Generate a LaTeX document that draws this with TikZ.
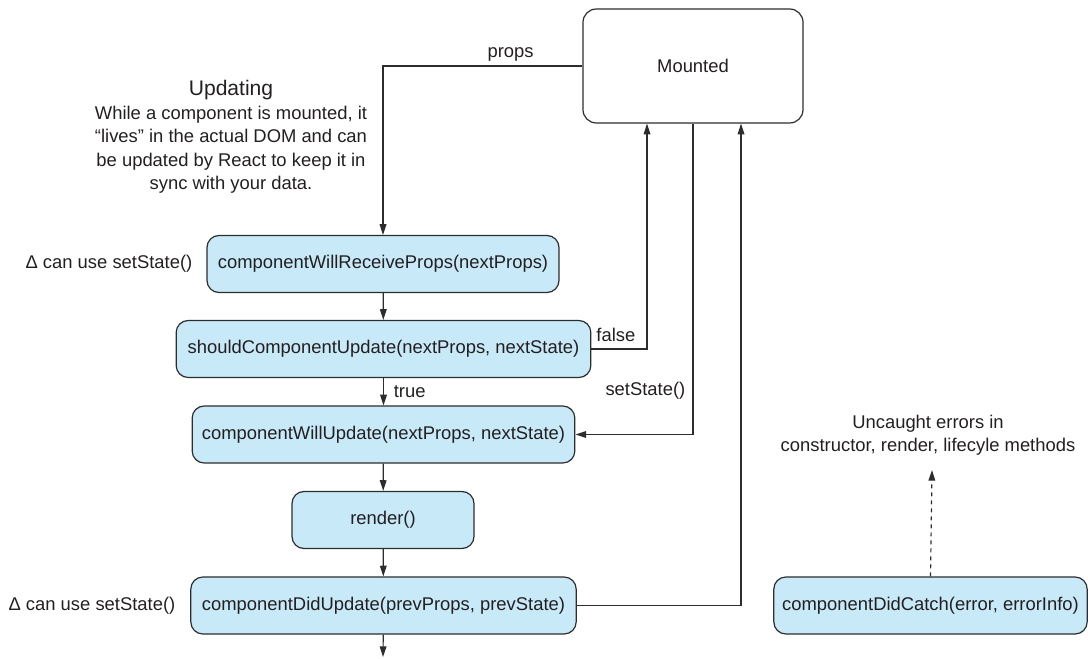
\documentclass[tikz,border=0pt]{standalone}
\usepackage{fontspec}
\setmainfont{Liberation Sans}
\usetikzlibrary{arrows.meta}
\definecolor{stagefill}{RGB}{199,233,248}
\definecolor{linegray}{RGB}{45,45,45}
\definecolor{textgray}{RGB}{35,31,32}

\begin{document}
\begin{tikzpicture}[x=0.75pt, y=-0.75pt, font=\fontsize{13.8}{17.6}\selectfont, text=textgray,
    stage/.style={draw=linegray, fill=stagefill, rounded corners=9pt, line width=0.9pt, minimum height=42.75pt, inner sep=0pt},
    flow/.style={draw=linegray, line width=0.9pt, -{Triangle[length=8pt,width=5pt]}}]
        \useasboundingbox (0,0) rectangle (1088,659);
        % mounted state
        \node[draw=linegray, fill=white, rounded corners=10pt, line width=0.9pt, minimum width=165pt, minimum height=85.5pt] (mounted) at (693,66) {Mounted};
        \node[align=center] (updating) at (231,137) {{\fontsize{15.8}{17.6}\selectfont Updating}\\While a component is mounted, it\\“lives” in the actual DOM and can\\be updated by React to keep it in\\sync with your data.};
        % lifecycle methods
        \node[stage, minimum width=264pt] (cwrp) at (383,264) {componentWillReceiveProps(nextProps)};
        \node[stage, minimum width=311pt] (scu) at (383.5,349) {shouldComponentUpdate(nextProps, nextState)};
        \node[stage, minimum width=287pt] (cwu) at (383.5,434.5) {componentWillUpdate(nextProps, nextState)};
        \node[stage, minimum width=136.5pt] (render) at (383,520) {render()};
        \node[stage, minimum width=289pt] (cdu) at (383.5,605.5) {componentDidUpdate(prevProps, prevState)};
        \node[stage, minimum width=235pt] (cdc) at (930.5,605.5) {componentDidCatch(error, errorInfo)};
        \node[anchor=east] (hint1) at (197,264) {Δ can use setState()};
        \node[anchor=east] (hint2) at (180,605.5) {Δ can use setState()};
        \node[align=center] (uncaught) at (928,435) {Uncaught errors in\\constructor, render, lifecyle methods};
        \coordinate (errtip) at (932,470);
        \coordinate (cduout) at (383,657);
        % connectors
        \draw[flow] (mounted.west) -| node[pos=0.18, above] {props} (cwrp.north);
        \draw[flow] (cwrp) -- (scu);
        \draw[flow] (scu) -- node[midway, right=4pt] {true} (cwu);
        \draw[flow] (cwu) -- (render);
        \draw[flow] (render) -- (cdu);
        \draw[flow] (cdu) -- (cduout);
        \draw[flow] (scu.east) -| node[pos=0.22, above=2pt] {false} ([xshift=-34.5pt]mounted.south);
        \draw[flow] (mounted.south) |- node[pos=0.43, left=2pt] {setState()} (cwu.east);
        \draw[flow] (cdu.east) -| ([xshift=36pt]mounted.south);
        \draw[flow, dashed] (cdc.north) -- (errtip);
    \end{tikzpicture}
\end{document}
